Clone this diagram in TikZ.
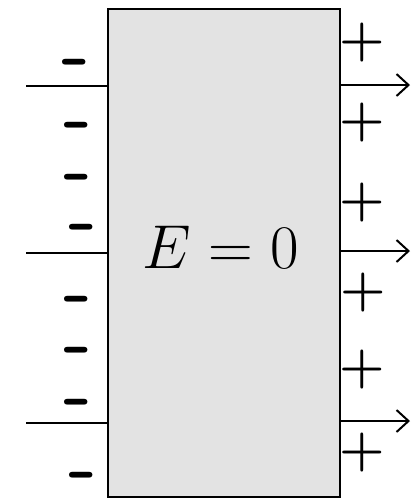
\RequirePackage{fix-cm}
\documentclass[tikz,border=0pt]{standalone}
\usetikzlibrary{positioning, arrows.meta}

\begin{document}
\begin{tikzpicture}[x=0.5pt, y=-0.5pt]
    \tikzset{
      conductor/.style={
        rectangle, draw=black, line width=1pt,
        fill=black!11, inner sep=0pt,
        minimum width=116pt, minimum height=244pt
      },
      minussign/.style={inner sep=0pt, anchor=center, yshift=-4.5pt,
        font=\fontsize{40}{40}\selectfont\sffamily\bfseries},
      plussign/.style={inner sep=0pt, font=\fontsize{26}{26}\selectfont\bfseries},
      wire/.style={line width=1.2pt},
      fieldline/.style={line width=1pt, -{Straight Barb[length=6pt,width=11pt,line width=1pt]}}
    }

    \useasboundingbox (0,0) rectangle (419,499);

    % Slab
    \node[conductor] (slab) at (224,253) {};
    \node[font=\fontsize{31}{31}\selectfont] (field) at (221,247) {$E = 0$};

    % Left side: incoming lines
    \coordinate (in1) at (26,86);
    \coordinate (in2) at (26,253);
    \coordinate (in3) at (26,423);
    \draw[wire] (in1) -- (in1 -| slab.west);
    \draw[wire] (in2) -- (in2 -| slab.west);
    \draw[wire] (in3) -- (in3 -| slab.west);

    % Right side: outgoing arrows
    \coordinate (out1) at (410,85);
    \coordinate (out2) at (410,251);
    \coordinate (out3) at (410,421);
    \draw[fieldline] (out1 -| slab.east) -- (out1);
    \draw[fieldline] (out2 -| slab.east) -- (out2);
    \draw[fieldline] (out3 -| slab.east) -- (out3);

    % Negative charges
    \node[minussign] (m1) at (76,61) {-};
    \node[minussign] (m2) at (78,124) {-};
    \node[minussign] (m3) at (78,176) {-};
    \node[minussign] (m4) at (83,226) {-};
    \node[minussign] (m5) at (78,298) {-};
    \node[minussign] (m6) at (78,349) {-};
    \node[minussign] (m7) at (78,401) {-};
    \node[minussign] (m8) at (83,474) {-};

    % Positive charges
    \node[plussign] (p1) at (362,43) {+};
    \node[plussign] (p2) at (362,123) {+};
    \node[plussign] (p3) at (362,203) {+};
    \node[plussign] (p4) at (363,293) {+};
    \node[plussign] (p5) at (362,370) {+};
    \node[plussign] (p6) at (362,453) {+};
  \end{tikzpicture}
\end{document}
